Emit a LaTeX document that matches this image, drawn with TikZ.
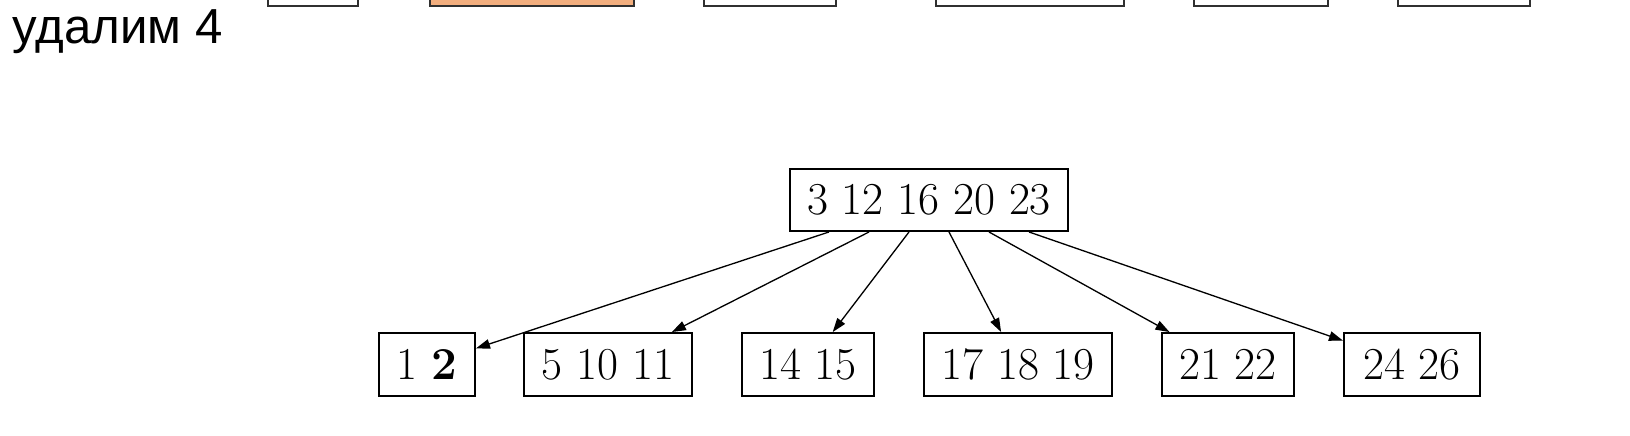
\documentclass[tikz,border=0pt]{standalone}
\usepackage{fontspec}
\newfontfamily\labelfont{Liberation Sans}
\usetikzlibrary{arrows.meta,calc}
\definecolor{peach}{HTML}{F2AE7E}
\definecolor{slideline}{HTML}{303030}
\begin{document}
\begin{tikzpicture}[x=0.02cm,y=-0.02cm,
  slidebox/.style={draw=slideline,line width=1.2pt},
  keybox/.style={draw=black,line width=1.1pt,inner sep=0pt,
    font=\fontsize{26}{31}\selectfont,anchor=center},
  edge/.style={line width=0.75pt,-{Triangle[length=0.28cm,width=0.19cm]}}]
\useasboundingbox (0,0) rectangle (1630,436);
\clip (0,0) rectangle (1630,436);
% partially visible boxes of the previous step
\draw[slidebox] (268,-30) rectangle (358,6);
\draw[slidebox,fill=peach] (430,-30) rectangle (634,6);
\draw[slidebox] (704,-30) rectangle (836,6);
\draw[slidebox] (936,-30) rectangle (1124,6);
\draw[slidebox] (1194,-30) rectangle (1328,6);
\draw[slidebox] (1398,-30) rectangle (1530,6);
% caption
\node[anchor=base west,inner sep=0pt,font=\labelfont\fontsize{28}{33}\selectfont] (caption) at (12,43.5) {удалим 4};
% tree
\node[keybox,minimum width=278*0.02cm,minimum height=62*0.02cm] (root) at (929,200) {3 12 16 20 23};
\node[keybox,minimum width=96*0.02cm,minimum height=63*0.02cm] (c1) at (427,364.5) {1 \textbf{2}};
\node[keybox,minimum width=168*0.02cm,minimum height=63*0.02cm] (c2) at (608,364.5) {5 10 11};
\node[keybox,minimum width=132*0.02cm,minimum height=63*0.02cm] (c3) at (808,364.5) {14 15};
\node[keybox,minimum width=188*0.02cm,minimum height=63*0.02cm] (c4) at (1018,364.5) {17 18 19};
\node[keybox,minimum width=132*0.02cm,minimum height=63*0.02cm] (c5) at (1228,364.5) {21 22};
\node[keybox,minimum width=136*0.02cm,minimum height=63*0.02cm] (c6) at (1412,364.5) {24 26};
\foreach \i in {1,...,6}{
  \coordinate (s\i) at ($(root.south west)!\i/7!(root.south east)$);
  \draw[edge] (s\i) -- (c\i);
}
\end{tikzpicture}
\end{document}
